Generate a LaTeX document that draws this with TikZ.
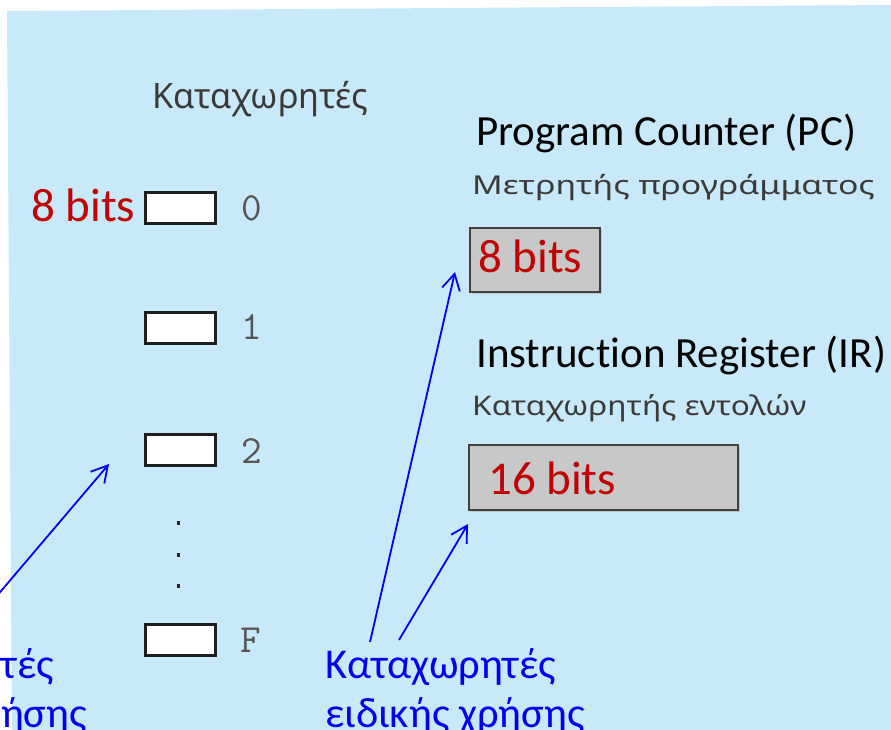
\documentclass[tikz,border=0pt]{standalone}
\usepackage{fontspec}
\setmainfont[Ligatures=NoCommon]{Carlito}
\newfontfamily\greyfont{Noto Sans}
\usetikzlibrary{arrows.meta}
\definecolor{bgblue}{HTML}{C8E9FA}
\definecolor{bitred}{HTML}{C00000}
\definecolor{regfill}{HTML}{C8C8C8}
\definecolor{labgrey}{HTML}{3A3A3A}
\definecolor{idgrey}{HTML}{555555}
\definecolor{callblue}{HTML}{0000F0}
\newcommand{\fs}[1]{\fontsize{#1}{#1}\selectfont}
\begin{document}
\begin{tikzpicture}[x=1pt,y=-1pt,
  txt/.style={inner sep=0pt, anchor=base west},
  smallreg/.style={draw=black!88, line width=3pt, fill=white,
    minimum width=70pt, minimum height=31pt, inner sep=0pt},
  bigreg/.style={draw=black!75, line width=2.5pt, fill=regfill, inner sep=0pt},
  regid/.style={inner sep=0pt, anchor=center, text=idgrey, font=\ttfamily\fs{40}},
  bits/.style={txt, text=bitred, font=\fs{47}},
  title/.style={txt, text=black, font=\fs{43}},
  subtitle/.style={txt, text=labgrey, font=\greyfont\fs{26}},
  callout/.style={txt, text=callblue, font=\fs{42.5}},
  callarrow/.style={draw=callblue, line width=1.8pt,
    -{Straight Barb[length=16pt,width=18pt,line width=1.8pt]}},
  dot/.style={fill=black!85, minimum width=3pt, minimum height=4pt, inner sep=0pt}
]
\useasboundingbox (0,0) rectangle (891,730);
\clip (0,0) rectangle (891,730);

% page background
\fill[bgblue] (7,11) -- (891,5) -- (891,730) -- (12,730) -- cycle;

% general purpose register file
\node[txt, text=labgrey, font=\greyfont\fs{35}] (hdr) at (152,109)
  {\scalebox{0.98}[1]{Καταχωρητές}};
\node[bits] (gpbits) at (31,222) {8 bits};
\node[smallreg] (r0) at (180,208) {};
\node[smallreg] (r1) at (180,328) {};
\node[smallreg] (r2) at (180,450) {};
\node[smallreg] (rF) at (180,640) {};
\node[regid] (id0) at (252,208) {0};
\node[regid] (id1) at (252,327) {1};
\node[regid] (id2) at (252,451) {2};
\node[regid] (idF) at (251,640) {F};
\node[dot] (d1) at (178,523) {};
\node[dot] (d2) at (178,555) {};
\node[dot] (d3) at (178,586) {};

% program counter
\node[title] (pct) at (476,146) {Program Counter (PC)};
\node[subtitle] (pcs) at (472,195) {\scalebox{1.30}[1]{Μετρητής προγράμματος}};
\fill[black!30, opacity=0.6] (472,230) rectangle (602,294);
\node[bigreg, minimum width=130pt, minimum height=64pt] (pc) at (535,260) {};
\node[bits] (pcbits) at (478,272) {8 bits};

% instruction register
\node[title] (irt) at (476,367) {Instruction Register (IR)};
\node[subtitle, font=\greyfont\fs{27}] (irs) at (472,415) {\scalebox{1.17}[1]{Καταχωρητής εντολών}};
\fill[black!30, opacity=0.6] (471,447) rectangle (740,512);
\node[bigreg, minimum width=269pt, minimum height=65pt] (ir) at (603.5,477.5) {};
\node[bits] (irbits) at (488,494) {16 bits};

% callout labels
\node[callout] (gpl1) at (-177,678) {Καταχωρητές};
\node[callout] (gpl2) at (-177,727) {γενικής χρήσης};
\node[callout] (spl1) at (325,678) {Καταχωρητές};
\node[callout] (spl2) at (325,727) {ειδικής χρήσης};

% callout arrows
\coordinate (gpTail) at (-10,604);
\coordinate (gpTip) at (109,464);
\coordinate (pcTail) at (370,642);
\coordinate (pcTip) at (455,272);
\coordinate (irTail) at (399,640);
\coordinate (irTip) at (468,524);
\draw[callarrow] (gpTail) -- (gpTip);
\draw[callarrow] (pcTail) -- (pcTip);
\draw[callarrow] (irTail) -- (irTip);
\end{tikzpicture}
\end{document}
